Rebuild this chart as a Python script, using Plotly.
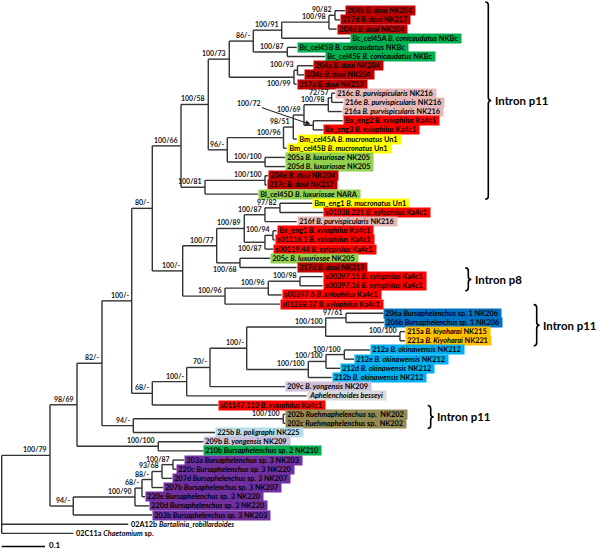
import plotly.graph_objects as go

# ---------------- DATA ----------------
# internal clades: name, parent, branch length (subst./site), bootstrap support (ML/MP)
clade_names = ["root", "n79", "n69", "n82", "nA", "n80", "n66", "n58", "n73", "n86",
               "n91", "n98a", "n9082", "n87c", "n99", "n93", "n96", "n96c", "n51", "n69b",
               "n98c", "n7257", "nBx", "n100i", "n81", "n100h", "nB", "n77", "n89", "n87a",
               "n9782", "n87b", "n94", "n68", "n96b", "n96a", "n98b", "n68a", "nC", "n70",
               "nD", "n100c", "n9761", "n100e", "n100d", "n100f", "n100g", "n94a", "n202", "n100b",
               "n94b", "n90", "n68b", "n88", "n9368", "n87d"]
clade_parents = [None, "root", "n79", "n69", "n82", "nA", "n80", "n66", "n58", "n73",
                 "n86", "n91", "n98a", "n86", "n73", "n99", "n58", "n96", "n96c", "n51",
                 "n69b", "n98c", "n69b", "n96", "n66", "n81", "n80", "nB", "n77", "n89",
                 "n87a", "n89", "n87b", "n77", "nB", "n96b", "n96a", "nA", "n68a", "nC",
                 "n70", "nD", "n100c", "n100c", "nD", "n100d", "n100f", "n82", "n94a", "n69",
                 "n79", "n94b", "n90", "n68b", "n88", "n9368"]
clade_lengths = [0.0, 0.1115, 0.0624, 0.0577, 0.0686, 0.0476, 0.0663, 0.0630, 0.0485, 0.0554,
                 0.0656, 0.1092, 0.0139, 0.0785, 0.1494, 0.0081, 0.0439, 0.1298, 0.0226, 0.0247,
                 0.0561, 0.0079, 0.0215, 0.0871, 0.0554, 0.1386, 0.0702, 0.0785, 0.0637, 0.0478,
                 0.0346, 0.0478, 0.0185, 0.0538, 0.0977, 0.1000, 0.0732, 0.0476, 0.0794, 0.0538,
                 0.0848, 0.1824, 0.0469, 0.1716, 0.1423, 0.0409, 0.0423, 0.0723, 0.3464, 0.1878,
                 0.0538, 0.1425, 0.0162, 0.0231, 0.0231, 0.0254]
clade_support = ["", "100/79", "98/69", "82/-", "100/-", "80/-", "100/66", "100/58", "100/73", "86/-",
                 "100/91", "100/98", "90/82", "100/87", "100/99", "100/93", "96/-", "100/96", "98/51", "100/69",
                 "100/98", "72/57", "100/72", "100/100", "100/81", "100/100", "100/-", "100/77", "100/89", "100/87",
                 "97/82", "100/87", "100/94", "100/68", "100/96", "100/96", "100/98", "68/-", "100/-", "70/-",
                 "100/-", "100/100", "97/61", "100/100", "100/100", "100/100", "100/100", "94/-", "100/100", "100/100",
                 "94/-", "100/90", "68/-", "88/-", "93/68", "100/87"]

# leaves, top to bottom
leaf_ids = ["204b", "217d", "204d", "Bc_cel45A", "Bc_cel45B", "Bc_cel45E", "204a", "204c", "217a",
            "216c", "216e", "216a", "Bx_eng2", "Bx_eng3", "Bm_cel45A", "Bm_cel45B", "205a", "205d",
            "204e", "217c", "Bl_cel45D", "Bm_eng1", "s01038.221", "216f", "Bx_eng1", "s01116.1",
            "s00119.44", "205c", "217d_2", "s00397.15", "s00397.16", "s00397.6", "s01288.37",
            "206a", "206b", "215a", "221a", "212a", "212e", "212d", "212b", "209c", "Abesseyi",
            "s01147.110", "202b", "202c", "225b", "209b", "210b", "203a", "220c", "207d", "207b",
            "220e", "220d", "203b", "02A12b", "02C11a"]
leaf_parents = ["n9082", "n9082", "n98a", "n91", "n87c", "n87c", "n93", "n93", "n99",
                "n7257", "n7257", "n98c", "nBx", "nBx", "n51", "n96c", "n100i", "n100i",
                "n100h", "n100h", "n81", "n9782", "n9782", "n87a", "n94", "n94",
                "n87b", "n68", "n68", "n98b", "n98b", "n96a", "n96b",
                "n9761", "n9761", "n100e", "n100e", "n100g", "n100g", "n100f", "n100d", "n70", "nC",
                "n68a", "n202", "n202", "n94a", "n100b", "n100b", "n87d", "n87d", "n9368", "n88",
                "n68b", "n90", "n94b", "root", "root"]
leaf_lengths = [0.0231, 0.0115, 0.0178, 0.1577, 0.0217, 0.0871, 0.0365, 0.0150, 0.0062,
                0.0076, 0.0261, 0.0309, 0.0679, 0.0231, 0.0079, 0.0074, 0.0462, 0.0462,
                0.0076, 0.0039, 0.1231, 0.0746, 0.1000, 0.0732, 0.0085, 0.0046,
                0.0192, 0.0693, 0.1309, 0.0524, 0.0524, 0.0309, 0.1270,
                0.0861, 0.0880, 0.0115, 0.0115, 0.0594, 0.0224, 0.0323, 0.0540, 0.1732, 0.2771,
                0.1524, 0.0046, 0.0046, 0.1887, 0.1039, 0.1039, 0.0254, 0.0079, 0.0231, 0.0254,
                0.0069, 0.0323, 0.1818, 0.2924, 0.1654]
leaf_codes = ["204b", "217d", "204d", "Bc_cel45A", "Bc_cel45B", "Bc_cel45E", "204a", "204c", "217a",
              "216c", "216e", "216a", "Bx_eng2", "Bx_eng3", "Bm_cel45A", "Bm_cel45B", "205a", "205d",
              "204e", "217c", "Bl_cel45D", "Bm_eng1", "s01038.221", "216f", "Bx_eng1", "s01116.1",
              "s00119.44", "205c", "217d", "s00397.15", "s00397.16", "s00397.6", "s01288.37",
              "206a", "206b", "215a", "221a", "212a", "212e", "212d", "212b", "209c", "",
              "s01147.110", "202b", "202c", "225b", "209b", "210b", "203a", "220c", "207d", "207b",
              "220e", "220d", "203b", "02A12b", "02C11a"]
leaf_taxa = ["B. doui", "B. doui", "B. doui", "B. conicaudatus", "B. conicaudatus", "B. conicaudatus",
             "B. doui", "B. doui", "B. doui", "B. purvispicularis", "B. purvispicularis", "B. purvispicularis",
             "B. xylophilus", "B. xylophilus", "B. mucronatus", "B. mucronatus", "B. luxuriosae", "B. luxuriosae",
             "B. doui", "B. doui", "B. luxuriosae", "B. mucronatus", "B. xylophilus", "B. purvispicularis",
             "B. xylophilus", "B. xylophilus", "B. xylophilus", "B. luxuriosae", "B. doui",
             "B. xylophilus", "B. xylophilus", "B. xylophilus", "B. xylophilus",
             "Bursaphelenchus", "Bursaphelenchus", "B. kiyoharai", "B. Kiyoharai",
             "B. okinawensis", "B. okinawensis", "B. okinawensis", "B. okinawensis", "B. yongensis",
             "Aphelenchoides besseyi", "B. xylophilus", "Ruehmaphelenchus", "Ruehmaphelenchus",
             "B. poligraphi", "B. yongensis", "Bursaphelenchus", "Bursaphelenchus", "Bursaphelenchus",
             "Bursaphelenchus", "Bursaphelenchus", "Bursaphelenchus", "Bursaphelenchus", "Bursaphelenchus",
             "Bartalinia_robillardoides", "Chaetomium"]
leaf_suffix = ["NK204", "NK217", "NK204", "NKBc", "NKBc", "NKBc", "NK204", "NK204", "NK217",
               "NK216", "NK216", "NK216", "Ka4c1", "Ka4c1", "Un1", "Un1", "NK205", "NK205",
               "NK204", "NK217", "NARA", "Un1", "Ka4c1", "NK216", "Ka4c1", "Ka4c1",
               "Ka4c1", "NK205", "NK217", "Ka4c1", "Ka4c1", "Ka4c1", "Ka4c1",
               "sp. 1 NK206", "sp. 1 NK206", "NK215", "NK221", "NK212", "NK212", "NK212", "NK212", "NK209",
               "", "Ka4c1", "sp.&nbsp; NK202", "sp.&nbsp; NK202", "NK225", "NK209", "sp. 2 NK210",
               "sp. 3 NK203", "sp. 3 NK220", "sp. 3 NK207", "sp. 3 NK207", "sp. 3 NK220", "sp. 3 NK220",
               "sp. 3 NK203", "", "sp."]
leaf_groups = ["doui", "doui", "doui", "conic", "conic", "conic", "doui", "doui", "doui",
               "purvi", "purvi", "purvi", "xylo", "xylo", "mucro", "mucro", "luxu", "luxu",
               "doui", "doui", "luxu", "mucro", "xylo", "purvi", "xylo", "xylo",
               "xylo", "luxu", "doui", "xylo", "xylo", "xylo", "xylo",
               "sp1", "sp1", "kiyo", "kiyo", "okin", "okin", "okin", "okin", "yong",
               "bess", "xylo", "ruehm", "ruehm", "polig", "yong", "sp2", "sp3", "sp3", "sp3", "sp3",
               "sp3", "sp3", "sp3", "out", "out"]

group_keys = ["doui", "conic", "purvi", "xylo", "mucro", "luxu", "sp1", "kiyo", "okin",
              "yong", "bess", "ruehm", "polig", "sp2", "sp3", "out"]
group_colors = ["#C00000", "#00B050", "#E6B9B8", "#FF0000", "#FFFF00", "#92D050", "#0070C0", "#FFC000",
                "#00B0F0", "#CCC0DA", "#D9D9D9", "#948A54", "#B7DEE8", "#00B050", "#7030A0", None]

# intron brackets
intron_labels = ["Intron p11", "Intron p8", "Intron p11", "Intron p11"]
intron_first = ["204b", "s00397.15", "206a", "202b"]
intron_last = ["Bl_cel45D", "s00397.16", "221a", "202c"]

scale_bar_length = 0.1
below_support = ["n99", "n68", "n87b"]      # support printed under the branch
arrow_support = ["nBx"]                     # support linked with an arrow

# ---------------- LAYOUT HELPERS ----------------
W, H = 600, 549
PX = 433.0          # pixels per substitution unit
X0 = 1.7            # pixel of root
Y0, DY = 10.7, 9.17 # pixel of first leaf, leaf spacing
FONT = "Lato"


def dx(p):
    return p / PX


def dy(p):
    return p / DY


parent_of = {}
length_of = {}
children = {}
for n, p, l in zip(clade_names, clade_parents, clade_lengths):
    parent_of[n] = p
    length_of[n] = l
    children.setdefault(n, [])
    if p is not None:
        children.setdefault(p, []).append(n)
for n, p, l in zip(leaf_ids, leaf_parents, leaf_lengths):
    parent_of[n] = p
    length_of[n] = l
    children.setdefault(p, []).append(n)

X = {}
Y = {}
for i, n in enumerate(leaf_ids):
    Y[n] = float(i)


def xpos(n):
    if n in X:
        return X[n]
    p = parent_of[n]
    X[n] = 0.0 if p is None else xpos(p) + length_of[n]
    return X[n]


def ypos(n):
    if n in Y:
        return Y[n]
    ys = [ypos(c) for c in children[n]]
    Y[n] = (min(ys) + max(ys)) / 2
    return Y[n]


for n in list(parent_of):
    xpos(n)
    ypos(n)

lx, ly = [], []
for n in clade_names:
    ys = [Y[c] for c in children[n]]
    lx += [X[n], X[n], None]
    ly += [min(ys), max(ys), None]
for n in list(parent_of):
    p = parent_of[n]
    if p is None:
        continue
    lx += [X[p], X[n], None]
    ly += [Y[n], Y[n], None]

fig = go.Figure()
fig.add_trace(go.Scatter(x=lx, y=ly, mode="lines",
                         line=dict(color="#333333", width=1.4),
                         hoverinfo="skip", showlegend=False))

annotations = []
colmap = dict(zip(group_keys, group_colors))
for i, n in enumerate(leaf_ids):
    code, tax, suf = leaf_codes[i], leaf_taxa[i], leaf_suffix[i]
    parts = []
    if code:
        parts.append(code)
    parts.append("<i>" + tax + "</i>")
    if suf:
        parts.append(suf)
    col = colmap[leaf_groups[i]]
    txt = "<b>" + " ".join(parts) + ("&nbsp;" if col else "") + "</b>"
    a = dict(x=X[n], y=Y[n], xref="x", yref="y", text=txt, showarrow=False,
             xanchor="left", yanchor="middle",
             font=dict(family=FONT, size=7.3, color="black"))
    if col:
        a.update(bgcolor=col, borderpad=1.2, height=6.9)
    else:
        a.update(xshift=1)
    annotations.append(a)

for n, s in zip(clade_names, clade_support):
    if not s:
        continue
    f = dict(family=FONT, size=7, color="#1a1a1a")
    if n in arrow_support:
        annotations.append(dict(x=X[n], y=Y[n], xref="x", yref="y", text="<b>" + s + "</b>",
                                showarrow=True, arrowhead=2, arrowsize=1, arrowwidth=1,
                                arrowcolor="#1a1a1a", standoff=3, ax=-64, ay=-22, font=f,
                                borderpad=0))
        continue
    below = n in below_support
    annotations.append(dict(x=X[n], y=Y[n], xref="x", yref="y", text="<b>" + s + "</b>",
                            showarrow=False, xanchor="right",
                            yanchor="top" if below else "bottom",
                            xshift=-2, yshift=-1 if below else 1, font=f, borderpad=0))

# intron braces
brace_px = [488.3, 468.3, 536.7, 430.7]
shapes = []
for lab, a, b, bx in zip(intron_labels, intron_first, intron_last, brace_px):
    yt = Y[a] - 0.95
    yb = Y[b] + 0.55
    ym = (yt + yb) / 2
    xb = dx(bx - X0)
    hx, hy = dx(3), dy(3)
    path = (f"M {xb-hx},{yt} Q {xb},{yt} {xb},{yt+hy} L {xb},{ym-hy} "
            f"Q {xb},{ym} {xb+hx},{ym} Q {xb},{ym} {xb},{ym+hy} "
            f"L {xb},{yb-hy} Q {xb},{yb} {xb-hx},{yb}")
    shapes.append(dict(type="path", xref="x", yref="y", path=path,
                       line=dict(color="black", width=1.6)))
    annotations.append(dict(x=xb + dx(5.5), y=ym, xref="x", yref="y", text="<b>" + lab + "</b>",
                            showarrow=False, xanchor="left", yanchor="middle", borderpad=0,
                            font=dict(family=FONT, size=11.4, color="black")))

# scale bar
ysb = dy(546.5 - Y0)
fig.add_trace(go.Scatter(x=[0, scale_bar_length], y=[ysb, ysb], mode="lines",
                         line=dict(color="black", width=1.4), hoverinfo="skip", showlegend=False))
annotations.append(dict(x=scale_bar_length, y=ysb, xref="x", yref="y", text="<b>0.1</b>",
                        showarrow=False, xanchor="left", yanchor="bottom", xshift=3, yshift=-4,
                        borderpad=0, font=dict(family=FONT, size=8, color="black")))

fig.update_layout(
    width=W, height=H, margin=dict(l=0, r=0, t=0, b=0),
    paper_bgcolor="white", plot_bgcolor="white",
    xaxis=dict(range=[dx(-X0), dx(W - X0)], visible=False, fixedrange=True),
    yaxis=dict(range=[dy(H - Y0), dy(-Y0)], visible=False, fixedrange=True),
    annotations=annotations, shapes=shapes, showlegend=False,
)
fig.write_html("out.html", config={"displayModeBar": False, "staticPlot": True},
               post_script="document.body.style.margin='0px';")
